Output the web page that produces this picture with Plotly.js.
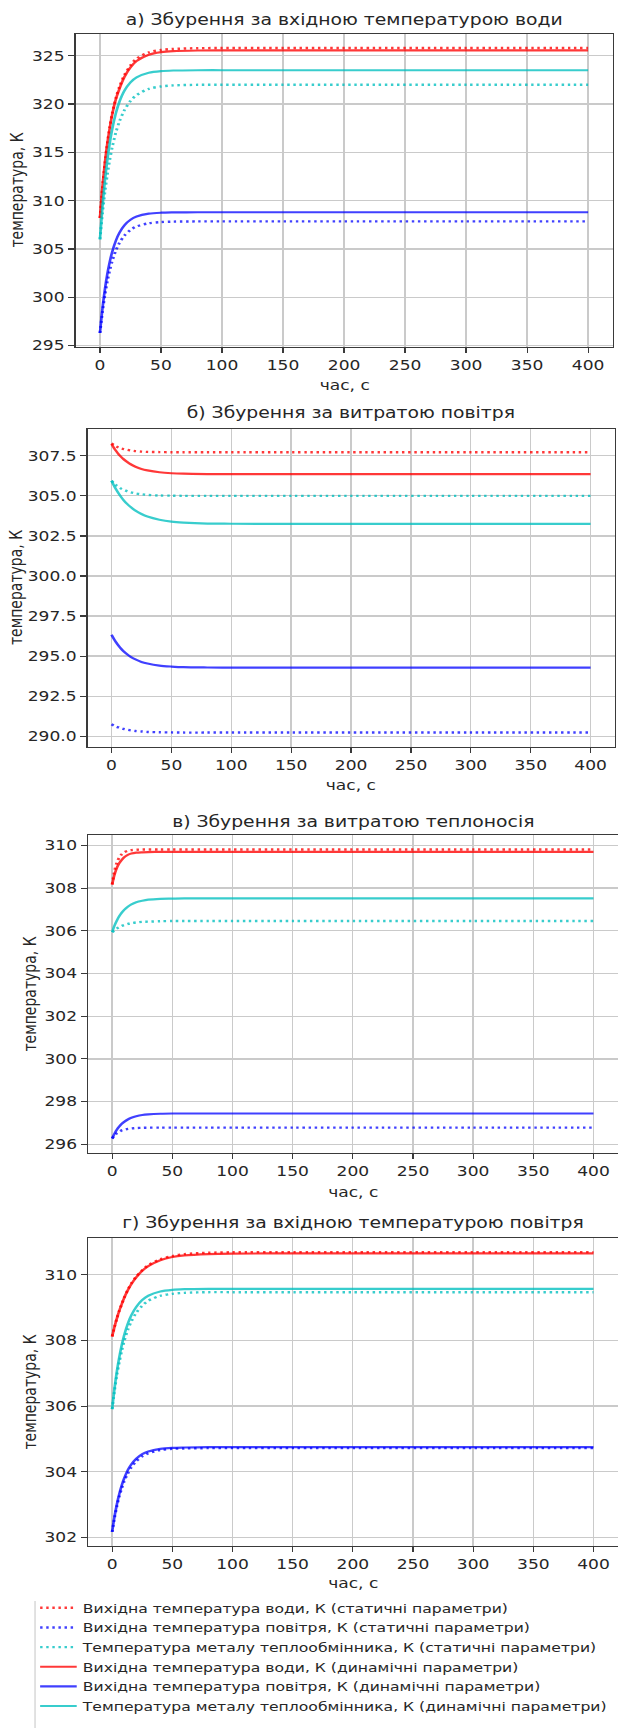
<!DOCTYPE html>
<html>
<head>
<meta charset="utf-8">
<script src="https://cdn.plot.ly/plotly-3.0.1.min.js"></script>
<style>
html,body{margin:0;padding:0;background:#fff;overflow:hidden;}
#wrap{width:618px;height:1728px;overflow:hidden;position:relative;}
#chart{position:absolute;left:0;top:0;transform-origin:0 0;}
</style>
</head>
<body>
<div id="wrap"><div id="chart"></div></div>
<script>
// ---------------- data ----------------
const timeS = [0, 2, 4, 6, 8, 10, 13, 16, 20, 25, 30, 40, 50, 60, 80, 100, 150, 200, 300, 400];

const seriesNames = [
  "Вихідна температура води, К (статичні параметри)",
  "Вихідна температура повітря, К (статичні параметри)",
  "Температура металу теплообмінника, К (статичні параметри)",
  "Вихідна температура води, К (динамічні параметри)",
  "Вихідна температура повітря, К (динамічні параметри)",
  "Температура металу теплообмінника, К (динамічні параметри)"
];

const panelTitles = [
  "а) Збурення за вхідною температурою води",
  "б) Збурення за витратою повітря",
  "в) Збурення за витратою теплоносія",
  "г) Збурення за вхідною температурою повітря"
];
const xLabel = "час, с";
const yLabel = "температура, К";

// а) inlet water temperature disturbance
const aStatWater = [308.2, 311.3, 313.8, 315.9, 317.6, 319.0, 320.6, 321.8, 323.0, 324.0, 324.7, 325.35, 325.6, 325.7, 325.78, 325.8, 325.8, 325.8, 325.8, 325.8];
const aStatAir   = [296.3, 298.45, 300.2, 301.63, 302.79, 303.73, 304.83, 305.63, 306.38, 306.97, 307.33, 307.66, 307.78, 307.83, 307.85, 307.85, 307.85, 307.85, 307.85, 307.85];
const aStatMetal = [306.0, 308.64, 310.85, 312.67, 314.22, 315.5, 317.04, 318.21, 319.36, 320.32, 320.93, 321.57, 321.82, 321.93, 321.99, 322.0, 322.0, 322.0, 322.0, 322.0];
const aDynWater  = [308.2, 311.4, 313.9, 315.9, 317.5, 318.9, 320.5, 321.6, 322.8, 323.8, 324.45, 325.1, 325.37, 325.48, 325.54, 325.55, 325.55, 325.55, 325.55, 325.55];
const aDynAir    = [296.3, 298.79, 300.79, 302.39, 303.66, 304.69, 305.85, 306.69, 307.45, 308.02, 308.35, 308.65, 308.75, 308.78, 308.8, 308.8, 308.8, 308.8, 308.8, 308.8];
const aDynMetal  = [306.0, 309.32, 312.02, 314.19, 315.96, 317.39, 319.05, 320.25, 321.37, 322.24, 322.76, 323.24, 323.41, 323.47, 323.5, 323.5, 323.5, 323.5, 323.5, 323.5];

// б) air flow disturbance
const bStatWater = [308.27, 308.17, 308.08, 308.01, 307.95, 307.92, 307.87, 307.83, 307.79, 307.76, 307.74, 307.73, 307.72, 307.72, 307.72, 307.72, 307.72, 307.72, 307.72, 307.72];
const bStatAir   = [290.75, 290.67, 290.6, 290.55, 290.5, 290.46, 290.41, 290.37, 290.33, 290.3, 290.27, 290.25, 290.24, 290.23, 290.23, 290.23, 290.23, 290.23, 290.23, 290.23];
const bStatMetal = [305.94, 305.78, 305.65, 305.55, 305.45, 305.38, 305.29, 305.22, 305.15, 305.1, 305.06, 305.02, 305.01, 305.0, 305.0, 305.0, 305.0, 305.0, 305.0, 305.0];
const bDynWater  = [308.23, 307.99, 307.78, 307.59, 307.43, 307.29, 307.12, 306.97, 306.82, 306.68, 306.59, 306.47, 306.41, 306.38, 306.36, 306.35, 306.35, 306.35, 306.35, 306.35];
const bDynAir    = [296.33, 296.07, 295.84, 295.64, 295.46, 295.31, 295.12, 294.96, 294.8, 294.64, 294.54, 294.41, 294.35, 294.31, 294.29, 294.28, 294.28, 294.28, 294.28, 294.28];
const bDynMetal  = [305.94, 305.64, 305.38, 305.14, 304.93, 304.74, 304.5, 304.3, 304.08, 303.87, 303.71, 303.51, 303.39, 303.33, 303.27, 303.26, 303.25, 303.25, 303.25, 303.25];

// в) heat carrier flow disturbance
const cStatWater = [308.17, 308.81, 309.21, 309.44, 309.59, 309.68, 309.75, 309.78, 309.8, 309.81, 309.81, 309.81, 309.81, 309.81, 309.81, 309.81, 309.81, 309.81, 309.81, 309.81];
const cStatAir   = [296.27, 296.41, 296.52, 296.59, 296.65, 296.68, 296.72, 296.74, 296.76, 296.77, 296.78, 296.78, 296.78, 296.78, 296.78, 296.78, 296.78, 296.78, 296.78, 296.78];
const cStatMetal = [305.94, 306.03, 306.11, 306.17, 306.23, 306.27, 306.32, 306.36, 306.39, 306.42, 306.43, 306.45, 306.46, 306.46, 306.46, 306.46, 306.46, 306.46, 306.46, 306.46];
const cDynWater  = [308.17, 308.64, 308.96, 309.18, 309.33, 309.45, 309.56, 309.62, 309.66, 309.68, 309.69, 309.7, 309.7, 309.7, 309.7, 309.7, 309.7, 309.7, 309.7, 309.7];
const cDynAir    = [296.27, 296.5, 296.69, 296.84, 296.96, 297.05, 297.16, 297.24, 297.31, 297.37, 297.4, 297.43, 297.44, 297.44, 297.44, 297.44, 297.44, 297.44, 297.44, 297.44];
const cDynMetal  = [305.94, 306.25, 306.49, 306.69, 306.85, 306.98, 307.13, 307.24, 307.34, 307.41, 307.46, 307.5, 307.51, 307.52, 307.52, 307.52, 307.52, 307.52, 307.52, 307.52];

// г) inlet air temperature disturbance
const dStatWater = [308.12, 308.42, 308.68, 308.91, 309.11, 309.3, 309.54, 309.74, 309.94, 310.14, 310.29, 310.47, 310.57, 310.63, 310.67, 310.685, 310.69, 310.69, 310.69, 310.69];
const dStatAir   = [302.17, 302.6, 302.96, 303.26, 303.5, 303.71, 303.95, 304.14, 304.32, 304.47, 304.56, 304.66, 304.7, 304.71, 304.72, 304.72, 304.72, 304.72, 304.72, 304.72];
const dStatMetal = [305.91, 306.48, 306.96, 307.35, 307.69, 307.98, 308.32, 308.58, 308.84, 309.06, 309.21, 309.36, 309.42, 309.45, 309.47, 309.47, 309.47, 309.47, 309.47, 309.47];
const dDynWater  = [308.12, 308.42, 308.68, 308.91, 309.11, 309.3, 309.53, 309.72, 309.92, 310.12, 310.26, 310.44, 310.54, 310.59, 310.63, 310.645, 310.65, 310.65, 310.65, 310.65];
const dDynAir    = [302.17, 302.64, 303.02, 303.33, 303.59, 303.8, 304.05, 304.23, 304.4, 304.54, 304.62, 304.7, 304.73, 304.74, 304.75, 304.75, 304.75, 304.75, 304.75, 304.75];
const dDynMetal  = [305.91, 306.55, 307.07, 307.5, 307.86, 308.16, 308.51, 308.77, 309.02, 309.23, 309.36, 309.49, 309.54, 309.56, 309.57, 309.57, 309.57, 309.57, 309.57, 309.57];

const xTicks = [0, 50, 100, 150, 200, 250, 300, 350, 400];

// ---------------- layout helpers ----------------
const W = 618, H = 1728;
const SX = 1.22;                 // the reference picture is stretched horizontally
const LW = W / SX;               // plotly layout width before the stretch
const chartDiv = document.getElementById("chart");
chartDiv.style.width = LW + "px";
chartDiv.style.height = H + "px";
chartDiv.style.transform = "scaleX(" + SX + ")";

const px = v => v / W;           // page px -> paper fraction
const py = v => 1 - v / H;

const panels = [
  {series: [aStatWater, aStatAir, aStatMetal, aDynWater, aDynAir, aDynMetal],
   box: [75.5, 34, 612, 347], yr: [294.85, 327.25], dtick: 5, fmt: "d",
   titleY: 20, xlabY: 385, ylabX: 16},
  {series: [bStatWater, bStatAir, bStatMetal, bDynWater, bDynAir, bDynMetal],
   box: [87.5, 429, 614, 747], yr: [289.33, 309.17], dtick: 2.5, fmt: ".1f",
   titleY: 413, xlabY: 785, ylabX: 16},
  {series: [cStatWater, cStatAir, cStatMetal, cDynWater, cDynAir, cDynMetal],
   box: [88, 835, 617, 1153], yr: [295.59, 310.49], dtick: 2, fmt: "d",
   titleY: 822, xlabY: 1192, ylabX: 30},
  {series: [dStatWater, dStatAir, dStatMetal, dDynWater, dDynAir, dDynMetal],
   box: [88, 1238, 617, 1546], yr: [301.74, 311.12], dtick: 2, fmt: "d",
   titleY: 1223, xlabY: 1583, ylabX: 30}
];

const colors = ["rgba(255,0,0,0.78)", "rgba(0,0,255,0.75)", "rgba(0,191,191,0.78)"];
const FONT = "DejaVu Sans, Verdana, sans-serif";
const txt = "#262626";

const traces = [];
const layout = {
  width: LW, height: H,
  margin: {l: 0, r: 0, t: 0, b: 0, pad: 0, autoexpand: false},
  paper_bgcolor: "#fff", plot_bgcolor: "#fff",
  font: {family: FONT, size: 14, color: txt},
  showlegend: true,
  legend: {
    x: px(34), y: py(1593), xanchor: "left", yanchor: "top",
    font: {family: FONT, size: 12.8, color: txt},
    itemwidth: 30, bgcolor: "rgba(0,0,0,0)", borderwidth: 0,
    traceorder: "normal", maxheight: 0.5
  },
  annotations: [],
  shapes: [
    {type: "line", xref: "paper", yref: "paper", x0: px(35), x1: px(35), y0: py(1601), y1: 0,
     line: {color: "#cfcfcf", width: 1.0}}
  ]
};

panels.forEach((p, i) => {
  const n = i + 1;
  const xa = "x" + (n === 1 ? "" : n), ya = "y" + (n === 1 ? "" : n);
  const xk = "xaxis" + (n === 1 ? "" : n), yk = "yaxis" + (n === 1 ? "" : n);
  const [l, t, r, b] = p.box;
  const axisCommon = {
    showgrid: true, gridcolor: "#cacaca", gridwidth: 1.3,
    showline: true, linecolor: "#3a3a3a", linewidth: 1.4, mirror: true,
    ticks: "outside", ticklen: 5, tickwidth: 1.2, tickcolor: "#3a3a3a",
    tickfont: {family: FONT, size: 14, color: txt}, zeroline: false, fixedrange: true
  };
  layout[xk] = Object.assign({}, axisCommon, {
    domain: [px(l), px(r)], anchor: ya, range: [-20, 420],
    tickmode: "array", tickvals: xTicks, ticktext: xTicks.map(String), gridwidth: 1.1, tickwidth: 1.0
  });
  layout[yk] = Object.assign({}, axisCommon, {
    domain: [py(b), py(t)], anchor: xa, range: p.yr,
    tick0: 0, dtick: p.dtick, tickformat: p.fmt, linewidth: 1.2
  });
  p.series.forEach((vals, k) => {
    const isStatic = k < 3;
    traces.push({
      type: "scatter", mode: "lines", x: timeS, y: vals,
      xaxis: xa, yaxis: ya, name: seriesNames[k],
      showlegend: i === 0, legendgroup: "s" + k,
      line: {color: colors[k % 3], width: isStatic ? 2.4 : 2.2,
             dash: isStatic ? "2px,3px" : "solid", shape: "spline", smoothing: 0.8},
      hoverinfo: "skip"
    });
  });
  layout.annotations.push(
    {text: panelTitles[i], xref: "paper", yref: "paper", x: px((l + r) / 2), y: py(p.titleY),
     xanchor: "center", yanchor: "middle", showarrow: false, font: {family: FONT, size: 15.4, color: txt}},
    {text: xLabel, xref: "paper", yref: "paper", x: px((l + r) / 2), y: py(p.xlabY),
     xanchor: "center", yanchor: "middle", showarrow: false, font: {family: FONT, size: 14, color: txt}},
    {text: yLabel, xref: "paper", yref: "paper", x: px(p.ylabX), y: py((t + b) / 2), textangle: -90,
     xanchor: "center", yanchor: "middle", showarrow: false, font: {family: FONT, size: 14, color: txt}}
  );
});

Plotly.newPlot(chartDiv, traces, layout, {displayModeBar: false, staticPlot: true});
</script>
</body>
</html>
